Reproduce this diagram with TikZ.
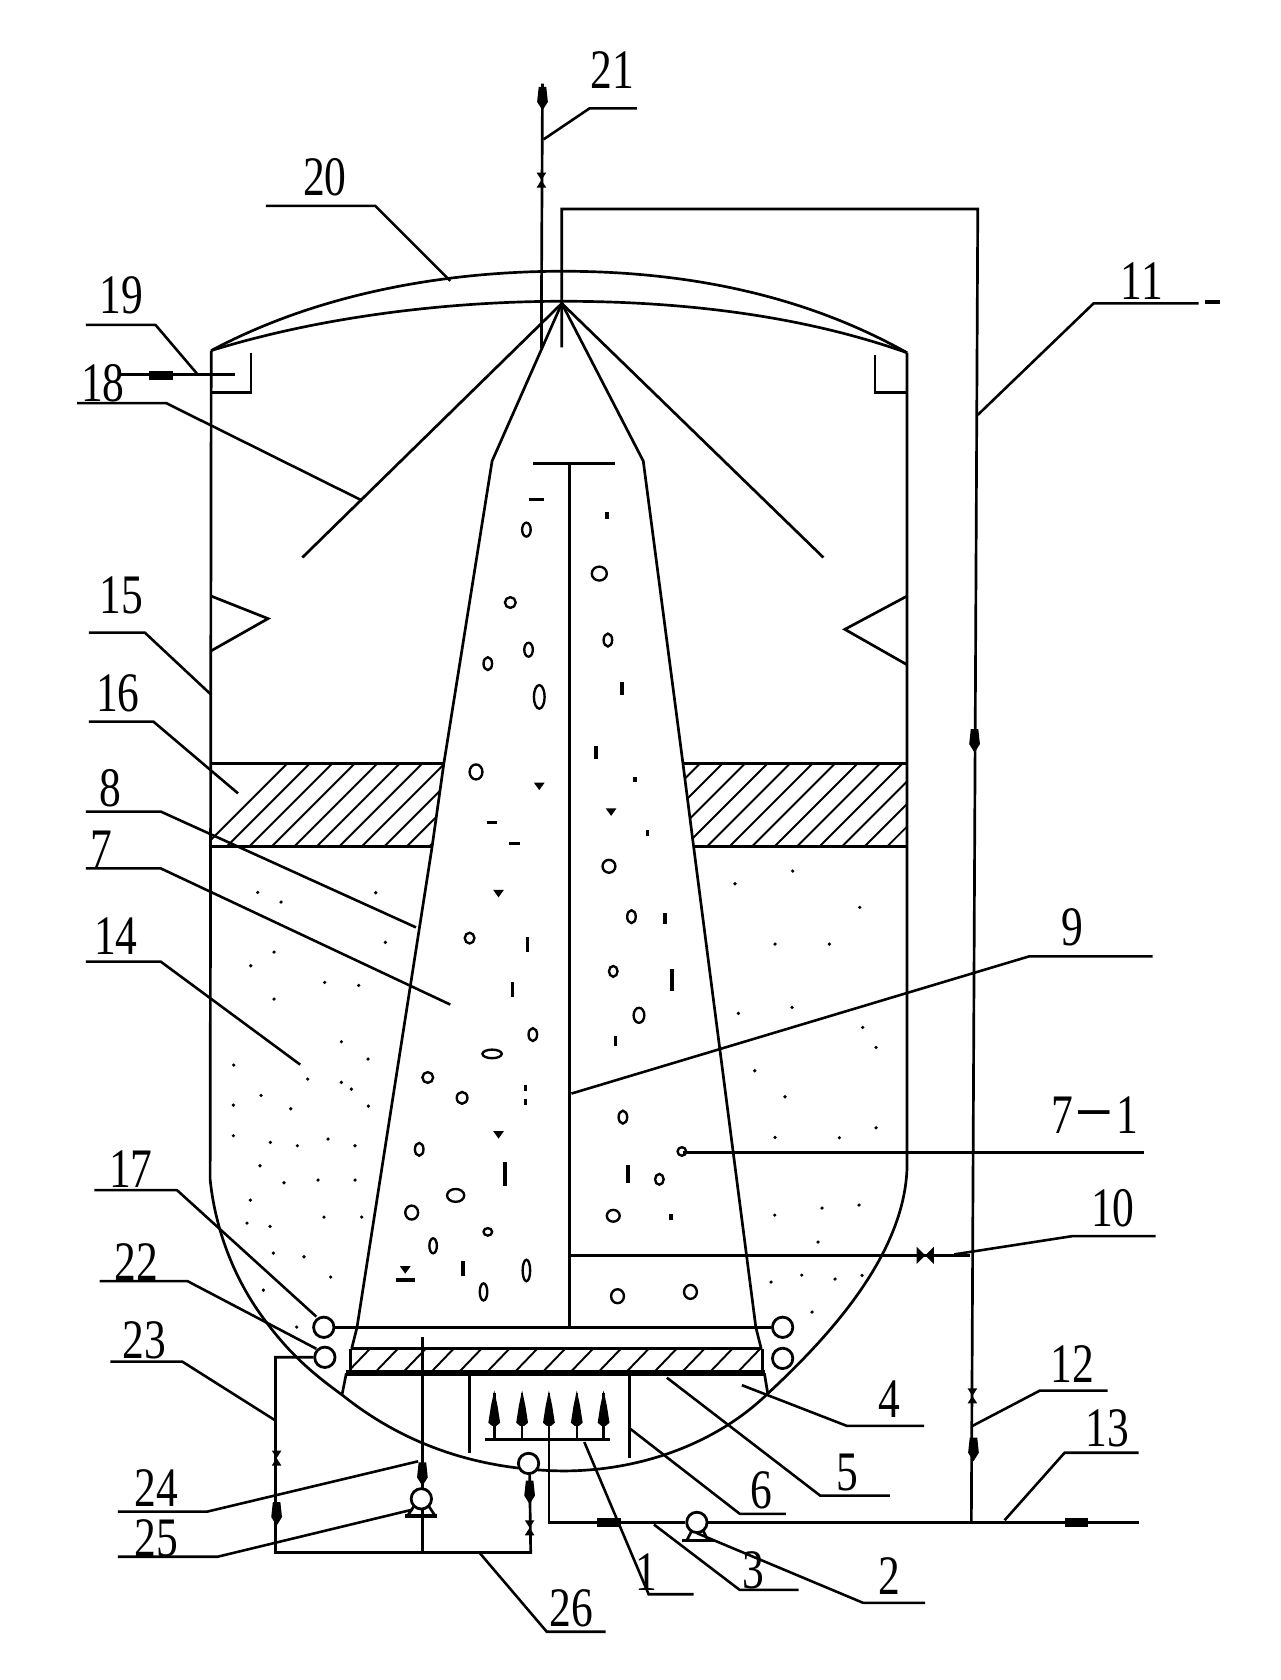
\documentclass[tikz,border=0pt]{standalone}
\usepackage{fontspec}
\setmainfont{Liberation Serif}
\newfontfamily\cjkdash{Noto Sans CJK SC}
\tikzset{
  pipe/.style={line width=2.5pt,black},
  lead/.style={line width=2.4pt,black},
  port/.style={circle,draw,line width=2.6pt,minimum size=19pt,inner sep=0pt},
  bubble/.style={line width=2.2pt},
  numlabel/.style={inner sep=0pt,font=\fontsize{52}{52}\selectfont},
}
\newcommand{\myleader}[6]{%
  \node[numlabel] (L#1) at (#3) {\scalebox{.78}[1]{#2}};
  \coordinate (A#1) at (#4);\coordinate (B#1) at (#5);\coordinate (C#1) at (#6);
  \draw[lead] (A#1)--(B#1)--(C#1);}
\newcommand{\myblobv}[2]{\fill (#1-3.5,#2-11)--(#1+3.5,#2-11)--(#1+5,#2+3)--(#1,#2+11)--(#1-5,#2+3)--cycle;}
\newcommand{\myblobh}[2]{\fill (#1-11,#2-4)--(#1+11,#2-4)--(#1+11,#2+4)--(#1-11,#2+4)--cycle;}
\newcommand{\myvalvev}[2]{\fill (#1-4.5,#2-7)--(#1+4.5,#2-7)--(#1-4.5,#2+7)--(#1+4.5,#2+7)--cycle;}
\newcommand{\myarrowup}[2]{\draw[line width=2.4pt] (#1,#2)--(#1,#2-44);\fill (#1,#2-46)--(#1+3,#2-32)--(#1+5.5,#2-16)--(#1+2,#2-13)--(#1-2,#2-13)--(#1-5.5,#2-16)--(#1-3,#2-32)--cycle;}
\begin{document}
\begin{tikzpicture}[x=1pt,y=-1pt]
\useasboundingbox (0,0) rectangle (1194,1567);
\fill[white] (0,0) rectangle (1194,1567);

% hatching
\begin{scope}
\clip (197,712)--(414,712)--(403,790)--(197,790)--cycle;
\foreach \i in {0,...,14} \draw[line width=1.8pt] ({185+\i*21},795)--({185+\i*21+90},705);
\end{scope}
\begin{scope}
\clip (637,712)--(846,712)--(846,790)--(647,790)--cycle;
\foreach \i in {0,...,14} \draw[line width=1.8pt] ({570+\i*21},795)--({570+\i*21+90},705);
\end{scope}
\begin{scope}
\clip (327,1258) rectangle (711,1279);
\foreach \i in {0,...,15} \draw[line width=1.8pt] ({322+\i*26},1282)--({322+\i*26+26},1255);
\end{scope}
\draw[line width=2.8pt] (197,712)--(414,712) (197,790)--(403,790) (637,712)--(846,712) (647,790)--(846,790);

% vessel
\draw[pipe] (197,327)--(196,1100)
  .. controls (200,1140) and (215,1190) .. (249,1234)
  .. controls (270,1262) and (290,1280) .. (319,1301)
  .. controls (380,1350) and (450,1371) .. (525,1372)
  .. controls (600,1372) and (670,1345) .. (717,1299)
  .. controls (775,1245) and (843,1170) .. (846,1090)--(846,329);
\draw[pipe] (197,327) .. controls (300,272) and (420,253) .. (525,253) .. controls (640,253) and (750,275) .. (846,329);
\draw[pipe] (197,327) .. controls (300,295) and (420,281) .. (525,281) .. controls (640,281) and (750,295) .. (846,329);
\draw[pipe] (234,329)--(234,366)--(197,366);
\draw[pipe] (816,331)--(816,366)--(846,366);
\draw[pipe] (197,556)--(250,577)--(197,607);
\draw[pipe] (846,556)--(788,587)--(846,620);

% cone
\coordinate (apex) at (524,283);
\draw[pipe] (apex)--(459,430)--(414,712)--(403,790)--(333,1238)--(328,1258);
\draw[pipe] (apex)--(600,430)--(637,712)--(647,790)--(705,1238)--(710,1258);
\draw[pipe] (apex)--(282,520);
\draw[pipe] (apex)--(768,520);
\draw[pipe] (497,432)--(574,432);
\draw[pipe] (531,432)--(531,1238);

% ports and base
\node[port] (p17) at (302,1238) {};
\node[port] (p22) at (303,1266) {};
\node[port] (pr1) at (730,1238) {};
\node[port] (pr2) at (730,1267) {};
\draw[line width=3pt] (p17)--(pr1);
\draw[line width=2.8pt] (327,1258)--(711,1258);
\draw[pipe] (327,1258)--(327,1279) (711,1258)--(711,1279);
\draw[line width=5.5pt] (323,1281)--(714,1281);
\draw[pipe] (323,1281)--(319,1301);
\draw[pipe] (713,1281)--(716,1299);
\draw[pipe] (438,1283)--(438,1355);
\draw[pipe] (587,1283)--(587,1360);
\draw[pipe] (531,1171)--(905,1171);
\fill (855,1163)--(863,1171)--(855,1179)--cycle;
\fill (871,1163)--(863,1171)--(871,1179)--cycle;

% aeration
\draw[line width=2.8pt] (452,1343)--(569,1343);
\myarrowup{461}{1343}\myarrowup{487}{1343}\myarrowup{512}{1343}\myarrowup{538}{1343}\myarrowup{563}{1343}

% main pipes
\coordinate (t1) at (524,324);\coordinate (t2) at (524,195);\coordinate (t3) at (912,195);\coordinate (t4) at (906,1420);
\draw[pipe] (t1)--(t2)--(t3)--(t4);
\draw[pipe] (506,78)--(505,290)--(505,325);
\myblobv{506}{92}
\myvalvev{505}{168}
\myblobv{909}{691}
\myvalvev{907}{1302}
\myblobv{908}{1352}

\node[port] (pump2) at (650,1420) {};
\draw[pipe] (512,1343)--(512,1420)--(pump2);
\draw[pipe] (pump2)--(1062,1420);
\draw[pipe] (641,1436)--(645,1428) (660,1436)--(656,1428);
\draw[line width=3.4pt] (636,1437)--(666,1437);
\myblobh{568}{1420}
\myblobh{1004}{1420}

% lower loop
\draw[pipe] (p22)--(257,1266)--(257,1448)--(495,1448)--(494,1375);
\draw[pipe] (394,1448)--(394,1247);
\node[port,fill=white] (pump25) at (393,1398) {};
\draw[line width=3.4pt] (378,1414)--(408,1414);
\draw[pipe] (380,1414)--(386,1405) (406,1414)--(400,1405);
\node[port,fill=white] (c26) at (493,1365) {};
\myblobv{394}{1375}
\myvalvev{258}{1360}
\myblobv{258}{1412}
\myblobv{494}{1392}
\myvalvev{494}{1425}

% pipe 19
\draw[line width=2.8pt] (113,349)--(219,349);
\myblobh{150}{350}

% bubbles
\foreach \x/\y/\a/\b in {491/494/4/6.5,476/562/5/5,455/619/4/6,493/606/4/6.5,503/650/5/11,444/720/6/7,438/875/4.5/5,497/965/4/6,459/983/9/4,399/1005/5/5,431/1024/5/5.5,391/1072/4/6,425/1115/8/6,384/1131/6/6.5,455/1149/4/3.5,404/1162/3.5/7,451/1205/3.5/8,491/1185/3.5/10,559/535/7/6.5,567/597/4/6,568/808/6/6,589/855/4/6,572/906/4/5,596/947/5/7,581/1042/4/6,636/1074/4/4,615/1100/4/5,572/1134/6/5.5,576/1209/6/6.5,644/1205/6/6.5}
  \draw[bubble] (\x,\y) ellipse [x radius=\a,y radius=\b];
% specks: vertical bars
\foreach \x/\y/\h in {492/881/7,478/923/7,471/1095/11,580/642/6,556/702/6,620/857/5,627/914/10,432/1183/7,574/971/5,586/1095/8,490/1015/3,490/1028/3,592/727/2,604/777/3,626/1135/3,566/481/3}
  \fill (\x-1.7,\y-\h)--(\x+1.7,\y-\h)--(\x+1.7,\y+\h)--(\x-1.7,\y+\h)--cycle;
% specks: dashes
\foreach \x/\y/\h in {500/466/7,459/767/5,480/787/5,378/1194/9}
  \fill (\x-\h,\y-1.6)--(\x+\h,\y-1.6)--(\x+\h,\y+1.6)--(\x-\h,\y+1.6)--cycle;
% specks: small triangles
\foreach \x/\y in {503/733,465/833,465/1058,570/757,378/1184}
  \fill (\x-5,\y-3)--(\x+5,\y-3)--(\x,\y+4)--cycle;

% sand dots
\foreach \x/\y in {173/157,243/186,527/158,556/307,222/336,152/377,374/427,476/436,222/477,424/605,504/657,101/675,323/717,424/727,454/747,183/766,100/795,272/806,505/798,100/887,211/907,292/917,384/897,465/917,180/977,252/1028,354/1020,465/1020,151/1080,141/1149,210/1159,372/1131,485/1131,220/1239,312/1250,392/1311,190/1350,290/1461}
  \fill ({(200+\x/3)*.9328},{(840+\y/3)*.9328}) circle [radius=1.7];
\foreach \x/\y in {338/93,165/131,539/202,285/312,448/312,175/520,336/502,548/562,588/622,224/692,315/770,285/892,478/893,588/863,426/1104,537/1095,284/1125,414/1206,273/1326,365/1305,465/1317,546/1306,396/1416}
  \fill ({(680+\x/3)*.9328},{(840+\y/3)*.9328}) circle [radius=1.7];

% leaders and labels
\myleader{21}{21}{571,65}{507,130}{550,101}{594,101}
\myleader{20}{20}{303,165}{248,192}{350,192}{420,262}
\myleader{19}{19}{113,275}{80,303}{145,303}{185,350}
\myleader{18}{18}{96,357}{72,376}{155,376}{338,467}
\myleader{15}{15}{113,555}{83,590}{135,590}{197,648}
\myleader{16}{16}{110,647}{83,673}{143,673}{222,740}
\myleader{8}{8}{103,735}{80,757}{150,757}{388,865}
\myleader{7}{7}{95,792}{80,810}{150,810}{420,937}
\myleader{14}{14}{108,873}{80,897}{150,897}{280,993}
\myleader{17}{17}{122,1090}{88,1110}{165,1110}{295,1228}
\myleader{22}{22}{127,1177}{93,1195}{175,1195}{295,1258}
\myleader{23}{23}{135,1250}{103,1270}{170,1270}{257,1325}
\myleader{24}{24}{146,1388}{110,1410}{193,1410}{390,1363}
\myleader{25}{25}{146,1435}{110,1452}{203,1452}{385,1408}
\myleader{26}{26}{533,1500}{447,1448}{510,1522}{565,1522}
\myleader{1}{1}{603,1466}{545,1345}{605,1487}{647,1487}
\myleader{3}{3}{703,1465}{610,1422}{690,1483}{745,1483}
\myleader{2}{2}{830,1470}{650,1430}{805,1495}{863,1495}
\myleader{6}{6}{710,1390}{587,1332}{690,1412}{733,1412}
\myleader{5}{5}{790,1373}{622,1285}{765,1395}{830,1395}
\myleader{4}{4}{830,1305}{692,1292}{790,1330}{862,1330}
\myleader{12}{12}{1000,1272}{907,1330}{970,1297}{1033,1297}
\myleader{13}{13}{1033,1332}{937,1418}{993,1355}{1062,1355}
\myleader{10}{10}{1038,1127}{890,1170}{1000,1153}{1078,1153}
\myleader{71}{7{\cjkdash －}1}{1021,1040}{637,1075}{800,1075}{1067,1075}
\myleader{9}{9}{1000,865}{533,1020}{960,892}{1075,892}
\myleader{11}{11}{1065,262}{912,387}{1020,283}{1118,283}
\fill (1124,280) rectangle (1138,284);
\end{tikzpicture}
\end{document}
